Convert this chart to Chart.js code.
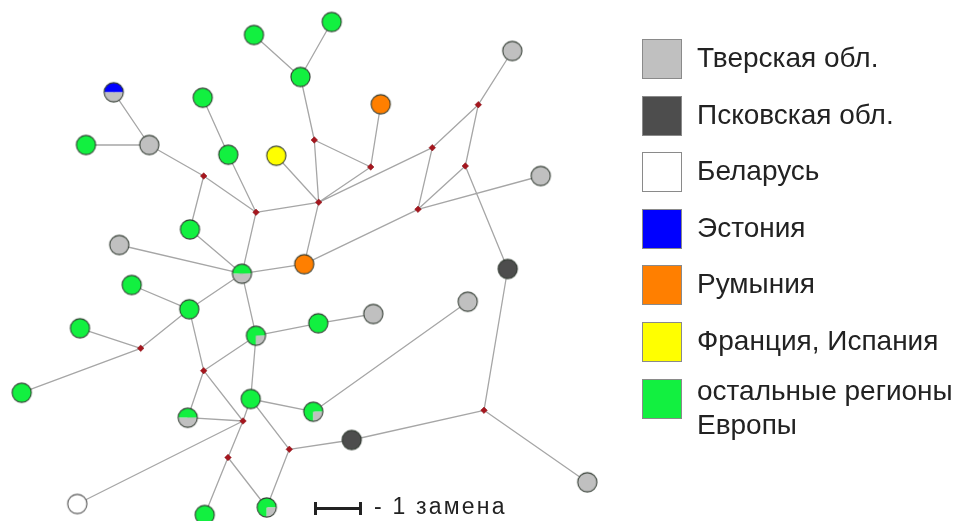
<!DOCTYPE html>
<html>
<head>
<meta charset="utf-8">
<script src="https://cdn.jsdelivr.net/npm/chart.js@4/dist/chart.umd.min.js"></script>
<style>
  html, body { margin: 0; padding: 0; background: #fff; }
  #wrap { position: relative; width: 955px; height: 521px; overflow: hidden; font-family: "Liberation Sans", Arial, sans-serif; }
  #net { position: absolute; left: 0; top: 0; }
  .leg-box { position: absolute; width: 38px; height: 38px; border: 1px solid #8a8a8a; }
  .leg-text { position: absolute; font-size: 28px; line-height: 34px; color: #222; white-space: nowrap; }
  #scalebar { position: absolute; left: 314px; top: 502px; width: 42px; height: 13px; border-left: 3px solid #222; border-right: 3px solid #222; }
  #scalebar::after { content: ""; position: absolute; left: 0; right: 0; top: 5px; height: 3px; background: #222; }
  #scaletext { position: absolute; left: 374px; top: 492px; font-size: 23px; letter-spacing: 2.2px; color: #222; line-height: 28px; white-space: nowrap; }
</style>
</head>
<body>
<div id="wrap">
  <canvas id="net" width="955" height="521"></canvas>
  <div id="legend"></div>
  <div id="scalebar"></div>
  <div id="scaletext">- 1 замена</div>
</div>
<script>
// regions (legend order)
const regionKeys = ['T', 'P', 'B', 'Es', 'R', 'F', 'E'];
const regionNames = ['Тверская обл.', 'Псковская обл.', 'Беларусь', 'Эстония', 'Румыния', 'Франция, Испания', 'остальные регионы\nЕвропы'];
const regionColors = ['#c0c0c0', '#4d4d4d', '#ffffff', '#0000ff', '#ff7f00', '#ffff00', '#12f040'];

// haplotypes: position in the network layout + composition
const hapId = ['h1','h2','h3','h4','h5','h6','h7','h8','h9','h10','h11','h12','h13','h14','h15','h16','h17',
               'h18','h19','h20','h21','h22','h23','h24','h25','h26','h27','h28','h29','h30','h31','h32','h33'];
const hapX = [254, 331.7, 300.5, 512.3, 113.7, 202.7, 380.7, 86, 149.3, 228.3, 276.3, 540.7, 190, 119.3, 242, 304.2, 507.7,
              131.7, 189.3, 80, 467.7, 373.3, 318.3, 256, 21.7, 250.7, 187.7, 313.3, 351.7, 587.3, 77.3, 266.7, 204.7];
const hapY = [35, 22, 77, 51, 92.3, 97.7, 104.3, 145, 145, 154.7, 155.7, 176, 229.5, 245, 273.7, 264.2, 269,
              285, 309.3, 328.3, 301.7, 314, 323.3, 335.7, 392.7, 399, 417.7, 411.7, 440, 482.3, 504, 507.5, 515];
const hapComp = ['E','E','E','T','Es/T','E','R','E','T','E','F','T','E','T','E/T','R','P',
                 'E','E','E','T','T','E','E3/T1','E','E','E/T','E3/T1','P','T','B','E3/T1','E'];

// median vectors (unsampled)
const medId = ['m1','m2','m3','m4','m5','m6','m7','m8','m9','m10','m11','m12','m13','m14','m15'];
const medX = [314.3, 370.7, 432.3, 478.3, 465.3, 318.7, 418, 203.7, 256, 140.7, 203.7, 243, 228, 289.3, 484];
const medY = [140, 167, 147.7, 104.7, 166, 202.3, 209.3, 176, 212.3, 348.3, 370.7, 421, 457.5, 449.3, 410.3];

// links (one mutation step each)
const links = [
  ['h2','h3'], ['h1','h3'], ['h3','m1'], ['m1','m2'], ['m2','h7'], ['m1','m6'], ['m2','m6'], ['m6','m3'],
  ['m3','m4'], ['m4','h4'], ['m4','m5'], ['m3','m7'], ['m5','m7'], ['m7','h12'], ['m7','h16'], ['m5','h17'],
  ['m6','h16'], ['m6','h11'], ['m6','m9'], ['h5','h9'], ['h8','h9'], ['h9','m8'], ['m8','m9'], ['m8','h13'],
  ['h6','h10'], ['h10','m9'], ['m9','h15'], ['h13','h15'], ['h14','h15'], ['h15','h16'], ['h15','h19'],
  ['h18','h19'], ['h19','m10'], ['m10','h20'], ['m10','h25'], ['h19','m11'], ['h15','h24'], ['h24','m11'],
  ['h24','h23'], ['h23','h22'], ['h24','h26'], ['m11','h27'], ['m11','m12'], ['h27','m12'], ['m12','h31'],
  ['m12','h26'], ['m12','m13'], ['m13','h33'], ['m13','h32'], ['h26','h28'], ['h26','m14'], ['m14','h32'],
  ['m14','h29'], ['h29','m15'], ['m15','h17'], ['m15','h30'], ['h28','h21']
];

// pie split of mixed haplotypes: start angle + [region, share]
const compositions = {
  'E/T':   { start: Math.PI, parts: [['E', 0.5], ['T', 0.5]] },
  'Es/T':  { start: Math.PI, parts: [['Es', 0.5], ['T', 0.5]] },
  'E3/T1': { start: Math.PI / 2, parts: [['E', 0.75], ['T', 0.25]] }
};

function colorOf(key) {
  return regionColors[regionKeys.indexOf(key)];
}

const R = 9.6;
const imgCache = {};
function nodeImage(comp) {
  if (imgCache[comp]) return imgCache[comp];
  const size = Math.ceil(R * 2 + 3);
  const c = document.createElement('canvas');
  c.width = size; c.height = size;
  const ctx = c.getContext('2d');
  const cx = size / 2, cy = size / 2;
  const spec = compositions[comp] || { start: 0, parts: [[comp, 1]] };
  let a = spec.start;
  spec.parts.forEach(([key, share]) => {
    const b = a + share * Math.PI * 2;
    ctx.beginPath();
    ctx.moveTo(cx, cy);
    ctx.arc(cx, cy, R, a, b);
    ctx.closePath();
    ctx.fillStyle = colorOf(key);
    ctx.fill();
    a = b;
  });
  ctx.beginPath();
  ctx.arc(cx, cy, R, 0, Math.PI * 2);
  ctx.lineWidth = 1.1;
  ctx.strokeStyle = comp === 'B' ? '#555' : 'rgba(35,45,35,0.9)';
  ctx.stroke();
  imgCache[comp] = c;
  return c;
}

const pos = {};
hapId.forEach((id, i) => { pos[id] = { x: hapX[i], y: hapY[i] }; });
medId.forEach((id, i) => { pos[id] = { x: medX[i], y: medY[i] }; });

const edgeData = [];
links.forEach(([a, b]) => {
  edgeData.push({ x: pos[a].x, y: pos[a].y }, { x: pos[b].x, y: pos[b].y }, { x: pos[b].x, y: null });
});

new Chart(document.getElementById('net'), {
  type: 'scatter',
  data: {
    datasets: [
      {
        label: 'links',
        data: edgeData,
        showLine: true,
        spanGaps: false,
        borderColor: '#a6a6a6',
        borderWidth: 1.3,
        pointRadius: 0,
        order: 3,
        clip: false
      },
      {
        label: 'median',
        data: medX.map((x, i) => ({ x: x, y: medY[i] })),
        pointStyle: 'rectRot',
        pointRadius: 3.3,
        backgroundColor: '#a5161e',
        borderColor: '#8a1218',
        borderWidth: 0.5,
        order: 2,
        clip: false
      },
      {
        label: 'haplotypes',
        data: hapX.map((x, i) => ({ x: x, y: hapY[i] })),
        pointStyle: ctx => nodeImage(hapComp[ctx.dataIndex]),
        pointRadius: R,
        order: 1,
        clip: false
      }
    ]
  },
  options: {
    responsive: false,
    animation: false,
    layout: { padding: 0, autoPadding: false },
    plugins: { legend: { display: false }, tooltip: { enabled: false } },
    scales: {
      x: { type: 'linear', min: 0, max: 955, display: false },
      y: { type: 'linear', min: 0, max: 521, reverse: true, display: false }
    }
  }
});

// legend on the right
const legend = document.getElementById('legend');
regionNames.forEach((name, i) => {
  const top = 39 + i * 56.6;
  const box = document.createElement('div');
  box.className = 'leg-box';
  box.style.left = '642px';
  box.style.top = top + 'px';
  box.style.background = regionColors[i];
  legend.appendChild(box);
  const txt = document.createElement('div');
  txt.className = 'leg-text';
  txt.style.left = '697px';
  const lines = name.split('\n');
  txt.style.top = (lines.length > 1 ? top - 5 : top + 2) + 'px';
  txt.innerHTML = lines.join('<br>');
  legend.appendChild(txt);
});
</script>
</body>
</html>
